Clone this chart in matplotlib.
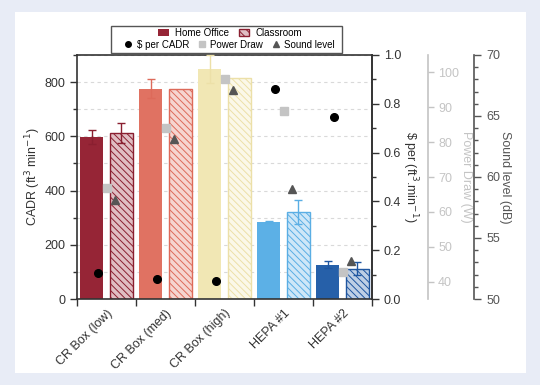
import matplotlib
matplotlib.use('Agg')
import matplotlib.pyplot as plt
import matplotlib.ticker as mticker
from matplotlib.patches import Rectangle, Patch
from matplotlib.lines import Line2D
import matplotlib.colors as mcolors

plt.rcParams['font.family'] = ['Liberation Sans', 'DejaVu Sans']
plt.rcParams['hatch.linewidth'] = 0.7

# --- Data ---
categories = ['CR Box (low)', 'CR Box (med)', 'CR Box (high)', 'HEPA #1', 'HEPA #2']
home_cadr = [598, 775, 848, 285, 127]
home_err = [25, 35, 52, 3, 12]
class_cadr = [612, 775, 817, 320, 112]
class_err = [37, 0, 0, 45, 24]
cost_per_cadr = [0.107, 0.081, 0.074, 0.859, 0.747]
power_draw = [66.8, 84.0, 98.0, 89.0, 42.8]
sound_level = [58.1, 63.1, 67.1, 59.0, 53.1]

# --- Theme ---
BG = '#e8ecf6'
DARK = '#333333'
LIGHTGRAY = '#c4c4c4'
SOUNDGRAY = '#555555'
bar_colors = ['#962536', '#e07262', '#f1e7b4', '#5cb0e6', '#2660a9']
edge_colors = ['#8a1f30', '#dd6a5a', '#ece0a8', '#5aaee4', '#1f56a0']


def lighten(c, amt):
    r, g, b = mcolors.to_rgb(c)
    return (1 - amt * (1 - r), 1 - amt * (1 - g), 1 - amt * (1 - b))


fig = plt.figure(figsize=(5.4, 3.85), dpi=100)
fig.set_facecolor(BG)
fig.patches.append(Rectangle((15 / 540, 12 / 385), 511 / 540, 361 / 385,
                             transform=fig.transFigure, facecolor='white',
                             edgecolor='none', zorder=-10))

ax = fig.add_axes([77 / 540, 86 / 385, 295 / 540, 244 / 385])
ax.set_facecolor('none')

w = 0.39
for i in range(len(categories)):
    ax.bar(i + 0.25, home_cadr[i], w, color=bar_colors[i], edgecolor='none', zorder=2)
    ax.bar(i + 0.75, class_cadr[i], w, color=lighten(bar_colors[i], 0.3),
           edgecolor=edge_colors[i], hatch='\\\\\\\\\\', linewidth=1.0, zorder=2)
    if home_err[i] > 0:
        ax.errorbar(i + 0.25, home_cadr[i], yerr=home_err[i], color=edge_colors[i],
                    capsize=3, elinewidth=1, capthick=1, zorder=3, clip_on=False)
    if class_err[i] > 0:
        ax.errorbar(i + 0.75, class_cadr[i], yerr=class_err[i], color=edge_colors[i],
                    capsize=3, elinewidth=1, capthick=1, zorder=3)

ax.set_xlim(0, 5)
ax.set_ylim(0, 900)
ax.yaxis.set_major_locator(mticker.MultipleLocator(200))
ax.yaxis.set_minor_locator(mticker.MultipleLocator(100))
ax.grid(True, which='both', axis='y', color='#d9d9d9', linestyle=(0, (3, 3)), linewidth=0.8, zorder=0)
ax.set_axisbelow(True)
ax.set_xticks([0, 1, 2, 3, 4, 5])
ax.set_xticks([i + 0.5 for i in range(5)], minor=True)
ax.set_xticklabels([])
ax.set_xticklabels(categories, minor=True, rotation=45, ha='right', rotation_mode='anchor')
ax.tick_params(axis='x', which='minor', length=0, pad=6, labelsize=9, colors=DARK)
ax.tick_params(axis='x', which='major', length=5, direction='out', width=1, color=DARK)
ax.tick_params(axis='y', which='major', length=5, width=1, labelsize=9, colors=DARK)
ax.tick_params(axis='y', which='minor', length=3, width=1, color=DARK)
ax.set_ylabel('CADR (ft$^3$ min$^{-1}$)', fontsize=9, color=DARK, labelpad=1)
for s in ax.spines.values():
    s.set_color(DARK)
    s.set_linewidth(1.2)

# $ per CADR axis
ax2 = ax.twinx()
ax2.plot([i + 0.356 for i in range(5)], cost_per_cadr, 'o', color='black', ms=5.5, zorder=5)
ax2.set_ylim(0, 1.0)
ax2.yaxis.set_major_locator(mticker.MultipleLocator(0.2))
ax2.yaxis.set_minor_locator(mticker.MultipleLocator(0.1))
ax2.yaxis.set_major_formatter(mticker.FormatStrFormatter('%.1f'))
ax2.tick_params(axis='y', which='major', length=5, width=1, labelsize=9, colors=DARK)
ax2.tick_params(axis='y', which='minor', length=3, width=1, color=DARK)
ax2.set_ylabel('\\$ per (ft$^3$.min$^{-1}$)', fontsize=9, color=DARK, rotation=270, labelpad=13)
ax2.spines['right'].set_color(DARK)
ax2.spines['right'].set_linewidth(1.2)

# Power draw axis
ax3 = ax.twinx()
ax3.spines['right'].set_position(('axes', 1.189))
ax3.plot([i + 0.5 for i in range(5)], power_draw, 's', color=LIGHTGRAY, ms=6, zorder=5)
ax3.set_ylim(35, 105)
ax3.yaxis.set_major_locator(mticker.MultipleLocator(10))
ax3.tick_params(axis='y', length=4, width=1, labelsize=9, colors=LIGHTGRAY)
ax3.set_ylabel('Power Draw (W)', fontsize=9, color=LIGHTGRAY, rotation=270, labelpad=9)
ax3.spines['right'].set_color(LIGHTGRAY)
ax3.spines['right'].set_linewidth(1.2)

# Sound level axis
ax4 = ax.twinx()
ax4.spines['right'].set_position(('axes', 1.347))
ax4.plot([i + 0.644 for i in range(5)], sound_level, '^', color=SOUNDGRAY, ms=6, zorder=5)
ax4.set_ylim(50, 70)
ax4.yaxis.set_major_locator(mticker.MultipleLocator(5))
ax4.yaxis.set_minor_locator(mticker.MultipleLocator(1))
ax4.tick_params(axis='y', which='major', length=5, width=1, labelsize=9, colors=SOUNDGRAY)
ax4.tick_params(axis='y', which='minor', length=3, width=1, color=SOUNDGRAY)
ax4.set_ylabel('Sound level (dB)', fontsize=9, color=SOUNDGRAY, rotation=270, labelpad=8)
ax4.spines['right'].set_color(SOUNDGRAY)
ax4.spines['right'].set_linewidth(1.2)

for a in (ax2, ax3, ax4):
    for side in ('top', 'left', 'bottom'):
        a.spines[side].set_visible(False)

# --- Legend (two rows inside one frame) ---
fig.patches.append(Rectangle((111 / 540, (385 - 52.5) / 385), 231 / 540, 26.5 / 385,
                             transform=fig.transFigure, facecolor='white',
                             edgecolor='#555555', linewidth=1.0, zorder=1))
h1 = [Patch(facecolor=bar_colors[0], edgecolor='none'),
      Patch(facecolor=lighten(bar_colors[0], 0.3), edgecolor=edge_colors[0], hatch='\\\\\\\\')]
leg1 = fig.legend(h1, ['Home Office', 'Classroom'], loc='center', ncol=2,
                  bbox_to_anchor=(230 / 540, (385 - 33) / 385), frameon=False,
                  fontsize=7, handlelength=1.1, handleheight=0.7, columnspacing=1.0,
                  handletextpad=0.6, borderpad=0)
h2 = [Line2D([], [], marker='o', ls='none', color='black', ms=4),
      Line2D([], [], marker='s', ls='none', color=LIGHTGRAY, ms=4),
      Line2D([], [], marker='^', ls='none', color=SOUNDGRAY, ms=4)]
leg2 = fig.legend(h2, ['\\$ per CADR', 'Power Draw', 'Sound level'], loc='center', ncol=3,
                  bbox_to_anchor=(229 / 540, (385 - 44.5) / 385), frameon=False,
                  fontsize=7, handlelength=1.0, columnspacing=0.8,
                  handletextpad=0.4, borderpad=0)
leg1.set_zorder(2)
leg2.set_zorder(2)

fig.savefig('out.png', dpi=100, facecolor=BG)
